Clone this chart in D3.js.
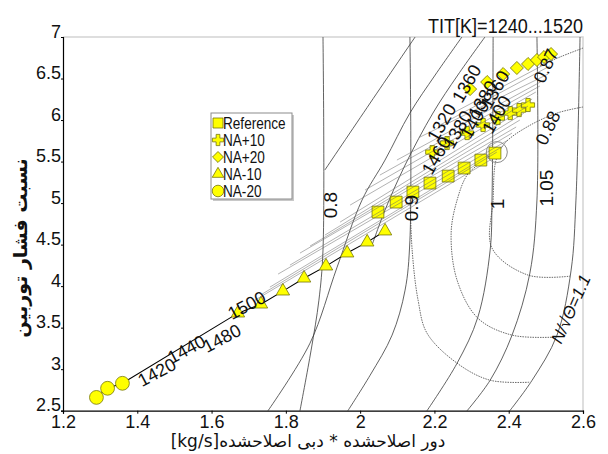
<!DOCTYPE html>
<html>
<head>
<meta charset="utf-8">
<script src="https://cdn.jsdelivr.net/npm/d3@7"></script>
<style>
body { margin: 0; background: #fff; }
svg text { font-family: "Liberation Sans", Arial, sans-serif; fill: #111; }
</style>
</head>
<body>
<svg id="chart" width="608" height="454"></svg>
<script>
// operating points for each case (x = corrected speed * corrected flow, y = pressure ratio)
var refX = [2.048, 2.097, 2.142, 2.188, 2.237, 2.280, 2.325, 2.363];
var refY = [4.892, 5.012, 5.133, 5.241, 5.325, 5.422, 5.518, 5.602];
var p10X = [2.194, 2.234, 2.288, 2.331, 2.371, 2.404, 2.428, 2.452];
var p10Y = [5.614, 5.723, 5.843, 5.940, 6.024, 6.084, 6.120, 6.181];
var p20X = [2.296, 2.342, 2.385, 2.422, 2.452, 2.476, 2.495, 2.514];
var p20Y = [6.373, 6.458, 6.554, 6.627, 6.675, 6.723, 6.759, 6.795];
var m10X = [1.671, 1.733, 1.792, 1.849, 1.908, 1.965, 2.019, 2.067];
var m10Y = [3.675, 3.783, 3.940, 4.096, 4.241, 4.398, 4.530, 4.663];
var m20X = [1.29, 1.32, 1.36];
var m20Y = [2.66, 2.77, 2.83];
var legendNames = ["Reference", "NA+10", "NA+20", "NA-10", "NA-20"];

// corrected speed lines of the turbine map
var n080 = [[1.900, 7.0], [1.900, 4.434], [1.889, 3.831], [1.868, 3.229], [1.838, 2.5]];
var n090 = [[2.134, 7.0], [2.134, 4.554], [2.121, 3.952], [2.086, 3.410], [2.027, 2.928], [1.967, 2.5]];
var n100 = [[2.358, 7.0], [2.355, 5.036], [2.350, 4.434], [2.317, 3.627], [2.261, 3.072], [2.180, 2.5]];
var n105 = [[2.476, 7.0], [2.476, 5.036], [2.457, 4.157], [2.409, 3.410], [2.350, 2.867], [2.288, 2.5]];
var n110 = [[2.592, 7.0], [2.581, 5.036], [2.568, 4.193], [2.530, 3.410], [2.463, 2.867], [2.403, 2.5]];
var lowA = [[2.148, 7.0], [2.027, 6.205], [1.905, 5.398]];
var lowB = [[2.274, 7.0], [2.202, 6.542], [2.134, 6.084], [2.067, 5.518], [2.005, 5.036], [1.938, 4.229], [1.865, 3.313], [1.752, 2.5]];
var lowC = [[2.336, 7.0], [2.263, 6.542], [2.196, 6.084], [2.121, 5.458], [2.067, 4.916], [2.032, 4.494]];

// efficiency contours (dotted)
var eff1 = [[2.600, 6.157], [2.530, 6.084], [2.449, 5.916], [2.390, 5.723], [2.366, 5.518], [2.358, 5.036], [2.355, 4.458], [2.452, 4.133], [2.565, 4.120]];
var eff2 = [[2.368, 5.639], [2.323, 5.482], [2.288, 5.337], [2.261, 5.036], [2.245, 4.639], [2.261, 4.072], [2.317, 3.614], [2.409, 3.410], [2.525, 3.386]];
var eff3 = [[2.134, 5.157], [2.140, 4.434], [2.156, 3.831], [2.180, 3.434], [2.261, 3.072], [2.350, 2.867], [2.457, 2.843]];
var eff4 = [[2.600, 6.867], [2.538, 6.759], [2.484, 6.651]];

// thin TIT lines (start x,y -> end x,y)
var titX0 = [1.717, 1.736, 1.757, 1.779, 1.811, 1.838, 1.865, 1.905, 1.946, 1.973, 2.013, 2.053, 2.099, 2.161, 2.215, 2.255];
var titY0 = [3.831, 3.904, 3.988, 4.145, 4.253, 4.398, 4.482, 4.614, 4.771, 4.976, 5.157, 5.337, 5.518, 5.795, 5.940, 6.096];
var titX1 = [2.350, 2.368, 2.385, 2.398, 2.409, 2.420, 2.430, 2.441, 2.452, 2.463, 2.473, 2.484, 2.495, 2.506, 2.511, 2.519];
var titY1 = [5.518, 5.614, 5.687, 5.759, 5.843, 5.916, 6.000, 6.084, 6.169, 6.253, 6.337, 6.410, 6.482, 6.554, 6.651, 6.723];

// TIT labels
var lowLabels = ["1420", "1440", "1480", "1500"];
var lowLabelX = [1.413, 1.493, 1.588, 1.655];
var lowLabelY = [2.783, 3.060, 3.193, 3.590];
var highLabels = ["1460", "1320", "1380", "1360", "1400", "1380", "1360", "1400"];
var highLabelX = [2.193, 2.207, 2.250, 2.274, 2.296, 2.317, 2.350, 2.355];
var highLabelY = [5.325, 5.723, 5.639, 6.193, 5.759, 6.000, 6.120, 5.819];

var yTicks = [2.5, 3, 3.5, 4, 4.5, 5, 5.5, 6, 6.5, 7];
var xTicks = [1.2, 1.4, 1.6, 1.8, 2, 2.2, 2.4, 2.6];

var svg = d3.select("#chart");
var x = d3.scaleLinear().domain([1.2, 2.6]).range([63, 583]);
var y = d3.scaleLinear().domain([2.5, 7]).range([410.7, 37]);

var curve = d3.line().x(d => x(d[0])).y(d => y(d[1])).curve(d3.curveCatmullRom);

// frame (light top / right)
svg.append("path")
    .attr("d", `M${x(1.2)},${y(7)}H${x(2.6)}V${y(2.5)}`)
    .attr("fill", "none").attr("stroke", "#d4d4d4").attr("stroke-width", 1.5);

var plot = svg.append("g");

// speed lines
[n080, n090, n100, n105, n110, lowA, lowB, lowC].forEach(function(pts) {
    plot.append("path").attr("d", curve(pts))
        .attr("fill", "none").attr("stroke", "#3a3a3a").attr("stroke-width", 0.8);
});

// efficiency contours
[eff1, eff2, eff3, eff4].forEach(function(pts) {
    plot.append("path").attr("d", curve(pts))
        .attr("fill", "none").attr("stroke", "#444").attr("stroke-width", 0.8)
        .attr("stroke-dasharray", "1.5,1");
});

// line through NA-20 and NA-10 points
var blackPts = m20X.map((v, i) => [v, m20Y[i]]).concat(m10X.map((v, i) => [v, m10Y[i]]));
plot.append("path")
    .attr("d", d3.line().x(d => x(d[0])).y(d => y(d[1]))(blackPts))
    .attr("fill", "none").attr("stroke", "#000").attr("stroke-width", 1.1);

// markers
var series = [
    { xs: refX, ys: refY, type: d3.symbolSquare, size: 140, rot: 0 },
    { xs: p10X, ys: p10Y, type: d3.symbolCross, size: 95, rot: 0 },
    { xs: p20X, ys: p20Y, type: d3.symbolSquare, size: 85, rot: 45 },
    { xs: m10X, ys: m10Y, type: d3.symbolTriangle, size: 78, rot: 0 },
    { xs: m20X, ys: m20Y, type: d3.symbolCircle, size: 150, rot: 0 }
];
series.forEach(function(s) {
    plot.append("g").selectAll("path")
        .data(s.xs.map((v, i) => [v, s.ys[i]]))
        .enter().append("path")
        .attr("d", d3.symbol().type(s.type).size(s.size))
        .attr("transform", d => `translate(${x(d[0])},${y(d[1])}) rotate(${s.rot})`)
        .attr("fill", "#ffff00").attr("stroke", "#77770a").attr("stroke-width", 0.8);
});

// thin TIT lines drawn over the markers
plot.append("g").selectAll("line")
    .data(titX0)
    .enter().append("line")
    .attr("x1", (d, i) => x(titX0[i])).attr("y1", (d, i) => y(titY0[i]))
    .attr("x2", (d, i) => x(titX1[i])).attr("y2", (d, i) => y(titY1[i]))
    .attr("stroke", "#666").attr("stroke-width", 0.5);

// highlighted design point
plot.append("circle")
    .attr("cx", x(2.368)).attr("cy", y(5.614)).attr("r", 10.5)
    .attr("fill", "none").attr("stroke", "#8a8a8a").attr("stroke-width", 1);

// TIT labels
plot.append("g").selectAll("text")
    .data(lowLabels)
    .enter().append("text")
    .attr("transform", (d, i) => `translate(${x(lowLabelX[i])},${y(lowLabelY[i])}) rotate(-28)`)
    .style("font-size", "18px")
    .text(d => d);
plot.append("g").selectAll("text")
    .data(highLabels)
    .enter().append("text")
    .attr("transform", (d, i) => `translate(${x(highLabelX[i])},${y(highLabelY[i])}) rotate(-60)`)
    .style("font-size", "18px")
    .text(d => d);

// speed labels
var speedLabels = [
    { t: "0.8", x: 1.938, y: 4.976 },
    { t: "0.9", x: 2.156, y: 4.940 },
    { t: "1", x: 2.387, y: 4.988 },
    { t: "1.05", x: 2.519, y: 5.181 }
];
speedLabels.forEach(function(l) {
    plot.append("text")
        .attr("transform", `translate(${x(l.x)},${y(l.y)}) rotate(-90)`)
        .attr("text-anchor", "middle")
        .style("font-size", "19px")
        .text(l.t);
});
[{ t: "0.88", x: 2.506, y: 5.904 }, { t: "0.87", x: 2.500, y: 6.651 }].forEach(function(l) {
    plot.append("text")
        .attr("transform", `translate(${x(l.x)},${y(l.y)}) rotate(-65)`)
        .attr("text-anchor", "middle").attr("dominant-baseline", "central")
        .style("font-size", "18px")
        .text(l.t);
});
plot.append("text")
    .attr("transform", `translate(${x(2.568)},${y(3.723)}) rotate(-66)`)
    .attr("text-anchor", "middle").attr("dominant-baseline", "central")
    .style("font-size", "17px").style("font-style", "italic")
    .text("N/\u221A\u0398=1.1");

// axes
var yAxis = svg.append("g").attr("transform", "translate(63,0)")
    .call(d3.axisLeft(y).tickValues(yTicks).tickSize(2).tickPadding(0).tickFormat(d3.format("")));
yAxis.selectAll("text").attr("dy", "0")
    .style("font-size", "18px");
var xAxis = svg.append("g").attr("transform", "translate(0,410.7)")
    .call(d3.axisBottom(x).tickValues(xTicks).tickSize(3).tickPadding(2).tickFormat(d3.format("")));
xAxis.selectAll("text")
    .style("font-size", "18px");
svg.selectAll(".domain").attr("stroke", "#000").attr("stroke-width", 1.2);
svg.selectAll(".tick line").attr("stroke", "#000");

// titles
svg.append("text")
    .attr("transform", "translate(583,33) scale(0.86,1)")
    .attr("text-anchor", "end")
    .style("font-size", "21px")
    .text("TIT[K]=1240...1520");
svg.append("text")
    .attr("transform", "translate(20,248) rotate(-90)")
    .attr("text-anchor", "middle").attr("dominant-baseline", "central")
    .style("font-family", "'DejaVu Sans', sans-serif").style("font-weight", "bold")
    .style("font-size", "19px")
    .text("نسبت فشار توربین");
svg.append("text")
    .attr("x", 308).attr("y", 447).attr("text-anchor", "middle")
    .style("font-family", "'DejaVu Sans', sans-serif")
    .style("font-size", "17px")
    .text("[kg/s]دور اصلاحشده * دبی اصلاحشده");

// legend
var legend = svg.append("g").attr("transform", "translate(211,113)");
legend.append("rect").attr("x", 2).attr("y", 2).attr("width", 81).attr("height", 86).attr("fill", "#c8c8c8");
legend.append("rect").attr("width", 81).attr("height", 86).attr("fill", "#fff").attr("stroke", "#8c8c8c");
var legendSizes = [100, 70, 60, 58, 105];
legendNames.forEach(function(name, i) {
    var s = series[i];
    legend.append("path")
        .attr("d", d3.symbol().type(s.type).size(legendSizes[i]))
        .attr("transform", `translate(7,${10 + i * 17}) rotate(${s.rot})`)
        .attr("fill", "#ffff00").attr("stroke", "#77770a").attr("stroke-width", 0.8);
    legend.append("text")
        .attr("transform", `translate(12,${16 + i * 17}) scale(0.8,1)`)
        .style("font-size", "17px")
        .text(name);
});
</script>
</body>
</html>
